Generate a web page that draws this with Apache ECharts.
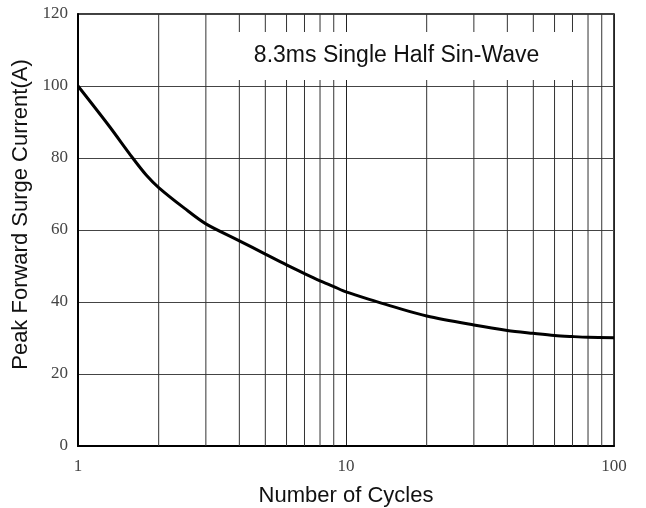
<!DOCTYPE html>
<html><head><meta charset="utf-8">
<script src="https://cdn.jsdelivr.net/npm/echarts@6/dist/echarts.min.js"></script>
<style>html,body{margin:0;padding:0;background:#fff}#c{width:646px;height:508px}</style>
</head><body><div id="c"></div>
<script>
const cycles = [1, 1.3, 1.6, 1.8, 2, 2.5, 3, 4, 5, 6, 7, 8, 9, 10, 13, 15, 20, 30, 40, 50, 60, 70, 80, 100];
const current = [100, 89.1, 80, 75.2, 71.8, 66, 61.7, 57, 53.3, 50.3, 47.9, 45.9, 44.3, 42.8, 40.1, 38.7, 36.1, 33.6, 32.1, 31.3, 30.7, 30.4, 30.2, 30.1];
const minorGridX = [2, 3, 4, 5, 6, 7, 8, 9, 20, 30, 40, 50, 60, 70, 80, 90];
const noteText = '8.3ms Single Half Sin-Wave';
const noteBox = { x: [3.25, 73.4], y: [101.7, 115] };
const yTicks = { min: 0, max: 120, interval: 20 };
const xRange = { min: 1, max: 100 };

const minorData = [];
minorGridX.forEach(v => { minorData.push([v, yTicks.min], [v, yTicks.max], [v, '-']); });

const chart = echarts.init(document.getElementById('c'), null, { renderer: 'canvas' });
const serif = '"Liberation Serif", "DejaVu Serif", serif';
const sans = '"Liberation Sans", Arial, sans-serif';
chart.setOption({
  animation: false,
  backgroundColor: '#fff',
  grid: { left: 78, right: 32, top: 14, bottom: 62, outerBoundsMode: 'none', containLabel: false, show: true, borderColor: '#000', borderWidth: 1.5, backgroundColor: 'transparent' },
  xAxis: {
    type: 'log', logBase: 10, min: xRange.min, max: xRange.max,
    name: 'Number of Cycles', nameLocation: 'middle', nameGap: 39,
    nameTextStyle: { fontFamily: sans, fontSize: 22, color: '#111' },
    axisLine: { show: true, lineStyle: { color: '#000', width: 2 } },
    axisTick: { show: false },
    axisLabel: { fontFamily: serif, fontSize: 17, color: '#444', margin: 12 },
    splitLine: { show: true, lineStyle: { color: '#222', width: 1 } }
  },
  yAxis: {
    type: 'value', min: yTicks.min, max: yTicks.max, interval: yTicks.interval,
    name: 'Peak Forward Surge Current(A)', nameLocation: 'middle', nameGap: 39,
    nameTextStyle: { fontFamily: sans, fontSize: 22, color: '#111', padding: [0, 0, 0, 31] },
    axisLine: { show: true, lineStyle: { color: '#000', width: 2 } },
    axisTick: { show: false },
    axisLabel: { fontFamily: serif, fontSize: 17, color: '#444', margin: 10 },
    splitLine: { show: true, lineStyle: { color: '#444', width: 1 } }
  },
  series: [
    {
      type: 'line', z: 1, silent: true, showSymbol: false, symbol: 'none',
      connectNulls: false,
      data: minorData,
      lineStyle: { color: '#333', width: 1 }
    },
    {
      type: 'line', z: 2, data: [], silent: true,
      markArea: {
        z: 4,
        silent: true,
        itemStyle: { color: '#fff', borderWidth: 0, opacity: 1 },
        label: { show: true, position: 'inside', formatter: noteText, fontFamily: sans, fontSize: 23, color: '#111' },
        data: [[{ coord: [noteBox.x[0], noteBox.y[1]] }, { coord: [noteBox.x[1], noteBox.y[0]] }]]
      }
    },
    {
      type: 'line', z: 5, data: cycles.map((c, i) => [c, current[i]]),
      smooth: 0.3, showSymbol: false, symbol: 'none',
      lineStyle: { color: '#000', width: 3 }
    }
  ]
});
</script></body></html>
